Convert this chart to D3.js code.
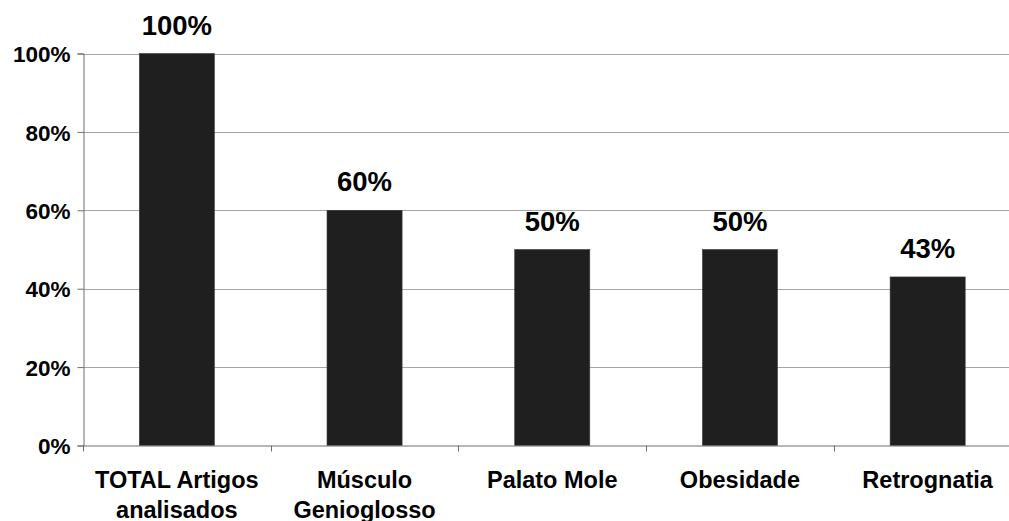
<!DOCTYPE html>
<html>
<head>
<meta charset="utf-8">
<script src="https://cdn.jsdelivr.net/npm/d3@7"></script>
<style>
  html, body { margin: 0; padding: 0; background: #fff; }
  svg { display: block; }
  text { font-family: "Liberation Sans", Arial, sans-serif; font-weight: bold; fill: #000; }
</style>
</head>
<body>
<svg id="chart" width="1009" height="521"></svg>
<script>
// Share of analysed articles citing each factor
const categories = [
  ["TOTAL Artigos", "analisados"],
  ["Músculo", "Genioglosso"],
  ["Palato Mole"],
  ["Obesidade"],
  ["Retrognatia"]
];
const values = [1.00, 0.60, 0.50, 0.50, 0.43];
const yTicks = [0, 0.2, 0.4, 0.6, 0.8, 1.0];

const svg = d3.select("#chart");
const plotLeft = 83, plotTop = 53.5, plotBottom = 445.5, step = 187.7;
const keys = categories.map(c => c.join(" "));

const x = d3.scaleBand()
  .domain(keys)
  .range([plotLeft, plotLeft + step * keys.length])
  .paddingInner(0).paddingOuter(0);

const y = d3.scaleLinear().domain([0, 1]).range([plotBottom, plotTop]);
const fmt = d3.format(".0%");

// Horizontal gridlines
svg.append("g")
  .selectAll("line")
  .data(yTicks.filter(t => t > 0))
  .join("line")
  .attr("x1", plotLeft).attr("x2", 1009)
  .attr("y1", d => Math.round(y(d)) + 0.5).attr("y2", d => Math.round(y(d)) + 0.5)
  .attr("stroke", "#a6a6a6").attr("stroke-width", 1);

// Bars
const barFrac = 0.4;
svg.append("g")
  .selectAll("rect")
  .data(values)
  .join("rect")
  .attr("x", (d, i) => x(keys[i]) + x.bandwidth() * (1 - barFrac) / 2)
  .attr("width", x.bandwidth() * barFrac)
  .attr("y", d => y(d))
  .attr("height", d => plotBottom - y(d))
  .attr("fill", "#1f1f1f")
  .attr("stroke", "#3a3a3a").attr("stroke-width", 0.6);

// Value labels
svg.append("g")
  .selectAll("text")
  .data(values)
  .join("text")
  .attr("x", (d, i) => x(keys[i]) + x.bandwidth() / 2)
  .attr("y", d => y(d) - 19)
  .attr("text-anchor", "middle")
  .style("font-size", "27.5px")
  .text(d => fmt(d));

// Y axis
const yAxis = svg.append("g")
  .attr("transform", `translate(${plotLeft + 0.5},0)`)
  .call(d3.axisLeft(y).tickValues(yTicks).tickFormat(fmt).tickSize(6).tickPadding(7));
yAxis.select(".domain").attr("stroke", "#6e6e6e");
yAxis.selectAll(".tick line").attr("stroke", "#6e6e6e");
yAxis.selectAll(".tick text")
  .style("font-size", "22.5px")
  .attr("fill", "#000")
  .attr("dy", "0.36em");

// X axis baseline and category boundary ticks
const xAxis = svg.append("g")
  .attr("transform", `translate(0,${plotBottom})`)
  .call(d3.axisBottom(x).tickSize(0).tickFormat(""));
xAxis.select(".domain").attr("stroke", "#6e6e6e");
xAxis.selectAll(".tick").remove();

const bounds = keys.map(k => x(k)).concat([x.range()[1]]);
svg.append("g")
  .selectAll("line")
  .data(bounds)
  .join("line")
  .attr("x1", d => Math.round(d) + 0.5).attr("x2", d => Math.round(d) + 0.5)
  .attr("y1", plotBottom).attr("y2", plotBottom + 6)
  .attr("stroke", "#6e6e6e");

// Category labels (multi-line)
const labels = svg.append("g")
  .selectAll("text")
  .data(categories)
  .join("text")
  .attr("x", (d, i) => x(keys[i]) + x.bandwidth() / 2)
  .attr("y", 488)
  .attr("text-anchor", "middle")
  .style("font-size", "23.5px");
labels.selectAll("tspan")
  .data(d => d)
  .join("tspan")
  .attr("x", function() { return this.parentNode.getAttribute("x"); })
  .attr("dy", (d, i) => i === 0 ? 0 : 30)
  .text(d => d);
</script>
</body>
</html>
